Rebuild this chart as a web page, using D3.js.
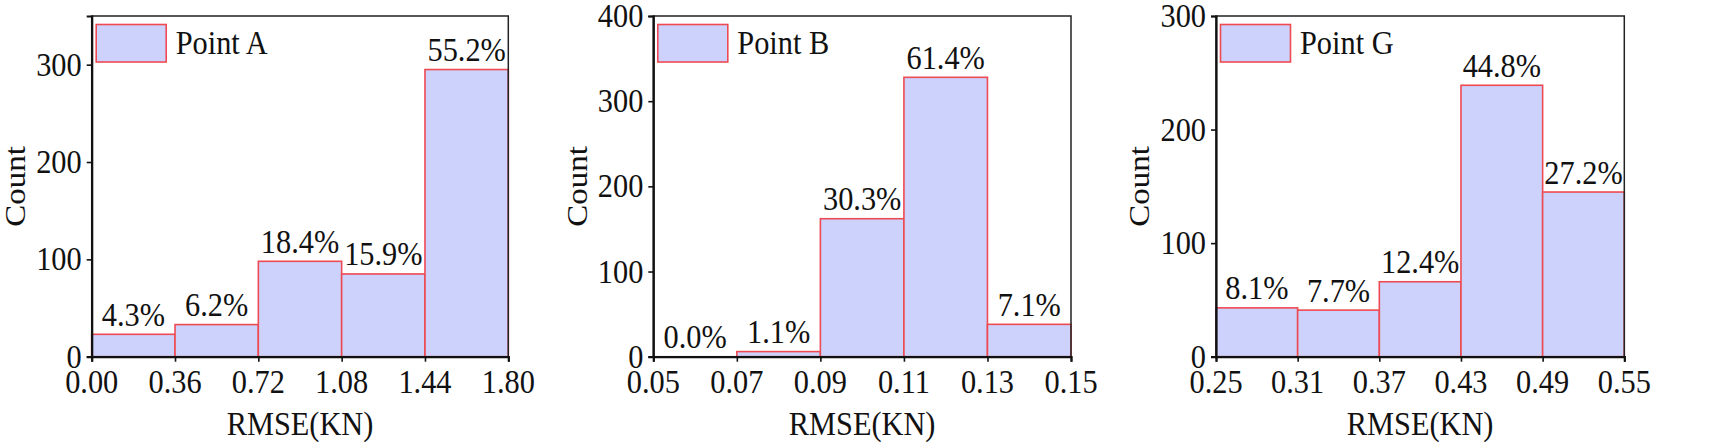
<!DOCTYPE html>
<html>
<head>
<meta charset="utf-8">
<script src="https://cdnjs.cloudflare.com/ajax/libs/d3/7.8.5/d3.min.js"></script>
<style>
  body { margin: 0; background: #fff; }
  svg text { font-family: "Liberation Serif", "Times New Roman", serif; fill: #111; }
</style>
</head>
<body>
<svg id="chart" width="1710" height="448"></svg>
<script>
// histogram counts per bin
var nameA = "Point A", edgesA = [0.00, 0.36, 0.72, 1.08, 1.44, 1.80], countsA = [23, 33, 98, 85, 295];
var nameB = "Point B", edgesB = [0.05, 0.07, 0.09, 0.11, 0.13, 0.15], countsB = [0, 6, 162, 328, 38];
var nameG = "Point G", edgesG = [0.25, 0.31, 0.37, 0.43, 0.49, 0.55], countsG = [43, 41, 66, 239, 145];
var yTicksA = [0, 100, 200, 300], yTicksB = [0, 100, 200, 300, 400], yTicksG = [0, 100, 200, 300];
var yMaxA = 350, yMaxB = 400, yMaxG = 300;

var panels = [
  {name: nameA, edges: edgesA, counts: countsA, yTicks: yTicksA, yMax: yMaxA, x0: 91.7, x1: 508.3, cx: 25},
  {name: nameB, edges: edgesB, counts: countsB, yTicks: yTicksB, yMax: yMaxB, x0: 653.3, x1: 1071, cx: 587},
  {name: nameG, edges: edgesG, counts: countsG, yTicks: yTicksG, yMax: yMaxG, x0: 1216, x1: 1624.3, cx: 1149}
];

var plotTop = 16, plotBottom = 356.7;
var fs = 33, sx = 0.92;   // the text in the picture is a bit squeezed sideways
var fill = "#ccd2fc", edge = "#ee4a52";
var svg = d3.select("#chart");

function label(g, x, y, txt, anchor, rot) {
  g.append("text")
    .attr("transform", "translate(" + x + "," + y + ") scale(" + sx + ",1)" + (rot ? " rotate(-90)" : ""))
    .attr("text-anchor", anchor)
    .style("font-size", fs + "px")
    .text(txt);
}

panels.forEach(function(p) {
  var g = svg.append("g");
  var x = d3.scaleLinear().domain([p.edges[0], p.edges[p.edges.length - 1]]).range([p.x0, p.x1]);
  var y = d3.scaleLinear().domain([0, p.yMax]).range([plotBottom, plotTop]);
  var total = d3.sum(p.counts);

  // bars
  var bins = p.counts.map(function(c, i) { return {lo: p.edges[i], hi: p.edges[i + 1], c: c}; });
  g.selectAll("rect.bar").data(bins).enter().append("rect")
    .attr("class", "bar")
    .attr("x", function(d) { return x(d.lo); })
    .attr("width", function(d) { return x(d.hi) - x(d.lo); })
    .attr("y", function(d) { return y(d.c); })
    .attr("height", function(d) { return plotBottom - y(d.c); })
    .attr("fill", fill)
    .attr("stroke", edge)
    .attr("stroke-width", 1.6);

  // percentages
  bins.forEach(function(d) {
    label(g, (x(d.lo) + x(d.hi)) / 2, y(d.c) - 8.5, (d.c / total * 100).toFixed(1) + "%", "middle");
  });

  // frame
  g.append("rect")
    .attr("x", p.x0).attr("y", plotTop)
    .attr("width", p.x1 - p.x0).attr("height", plotBottom - plotTop)
    .attr("fill", "none").attr("stroke", "#222").attr("stroke-width", 1.5);

  // axes
  var xa = d3.axisBottom(x).tickValues(p.edges).tickSize(5).tickFormat(d3.format(".2f"));
  var xg = g.append("g").attr("transform", "translate(0," + plotBottom + ")").call(xa);
  var ya = d3.axisLeft(y).tickValues(p.yTicks).tickSize(5);
  var yg = g.append("g").attr("transform", "translate(" + p.x0 + ",0)").call(ya);
  [xg, yg].forEach(function(a) {
    a.select(".domain").attr("stroke", "#111").attr("stroke-width", 2.2);
    a.selectAll(".tick line").attr("stroke", "#111").attr("stroke-width", 1.6);
    a.selectAll(".tick text").remove();
  });
  p.edges.forEach(function(v) { label(g, x(v), 393, d3.format(".2f")(v), "middle"); });
  p.yTicks.forEach(function(v) { label(g, p.x0 - 10, y(v) + 11, v, "end"); });

  // titles
  label(g, (p.x0 + p.x1) / 2, 435, "RMSE(KN)", "middle");
  label(g, p.cx, (plotTop + plotBottom) / 2, "Count", "middle", true);

  // legend
  g.append("rect")
    .attr("x", p.x0 + 4.5).attr("y", 24.5).attr("width", 70).attr("height", 37.5)
    .attr("fill", fill).attr("stroke", edge).attr("stroke-width", 1.6);
  label(g, p.x0 + 84, 54, p.name, "start");
});
</script>
</body>
</html>
